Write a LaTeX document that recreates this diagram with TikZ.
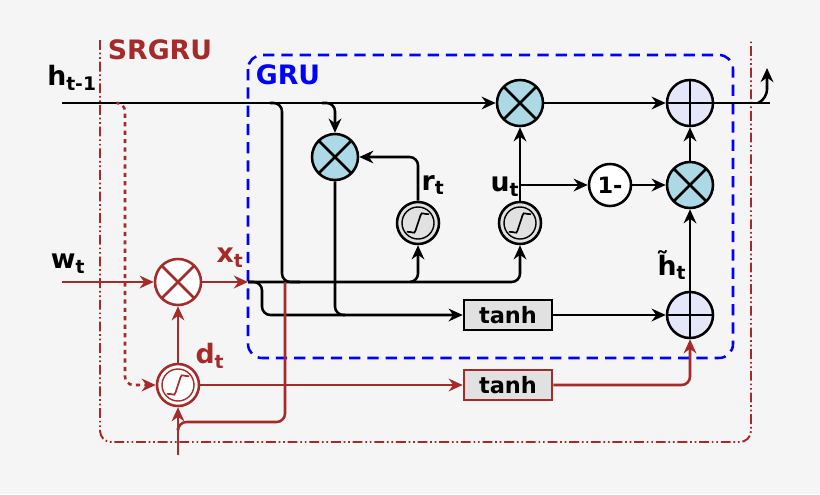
\documentclass[tikz,border=0pt]{standalone}
\usepackage{fontspec}
\setmainfont{DejaVu Sans}
\usetikzlibrary{arrows.meta,positioning}
\definecolor{srred}{RGB}{165,42,42}
\definecolor{mulblue}{RGB}{173,216,230}
\definecolor{addlav}{RGB}{230,230,250}
\definecolor{boxgray}{RGB}{225,225,225}
\tikzset{
	wire/.style={line width=1.8pt,rounded corners=6pt,-{Stealth[length=10pt,width=9pt]}},
	plain/.style={line width=1.8pt,rounded corners=6pt},
	op/.style={circle,draw,line width=1.8pt,minimum size=1.15cm,inner sep=0pt},
	mul/.style={op,fill=mulblue,path picture={
		\draw[line width=1.8pt] (path picture bounding box.north west)--(path picture bounding box.south east)
		(path picture bounding box.north east)--(path picture bounding box.south west);}},
	add/.style={op,fill=addlav,path picture={
		\draw[line width=1.8pt] (path picture bounding box.north)--(path picture bounding box.south)
		(path picture bounding box.east)--(path picture bounding box.west);}},
	sig/.style={op,minimum size=1.05cm,fill=boxgray,path picture={
		\draw[line width=1pt] (path picture bounding box.center) circle (0.4cm);
		\draw[line width=1.2pt] ([shift={(-0.28cm,-0.22cm)}]path picture bounding box.center)
		.. controls +(0.25cm,0) and +(-0.12cm,-0.35cm) .. (path picture bounding box.center)
		.. controls +(0.12cm,0.35cm) and +(-0.25cm,0) .. ([shift={(0.28cm,0.22cm)}]path picture bounding box.center);}},
	tanhbox/.style={draw,line width=1.8pt,fill=boxgray,minimum width=2.2cm,minimum height=0.75cm,font=\fontsize{16}{16}\selectfont\bfseries},
	lbl/.style={font=\fontsize{19}{19}\selectfont\bfseries}
}
\begin{document}
\begin{tikzpicture}[x=0.025cm,y=-0.025cm]
	\fill[white!96!black] (0,0) rectangle (820,494);
	\useasboundingbox (0,0) rectangle (820,494);

	% frames
	\draw[srred,line width=1.4pt,dash pattern=on 7pt off 2pt on 1.2pt off 2pt on 1.2pt off 2pt,rounded corners=8pt] (100,40)--(100,442)--(751,442)--(751,40);
	\node[lbl,srred] (srgru) at (160,50) {SRGRU};
	\draw[blue,line width=1.8pt,dash pattern=on 8pt off 5pt,rounded corners=10pt] (248,55) rectangle (733,358);
	\node[lbl,blue] (grutitle) at (288,75) {GRU};

	% nodes
	\node[mul] (mr) at (335,157) {};
	\node[mul] (mh) at (520,103) {};
	\node[mul] (mu) at (690,185) {};
	\node[add] (ptop) at (690,103) {};
	\node[add] (pbot) at (690,315) {};
	\node[sig] (sr) at (418,223) {};
	\node[sig] (su) at (520,223) {};
	\node[op,fill=white,font=\fontsize{16}{16}\selectfont\bfseries,minimum size=1.05cm] (one) at (610,185) {1-};
	\node[tanhbox] (th) at (508,315) {tanh};
	\node[tanhbox,draw=srred] (thd) at (508,385) {tanh};
	\node[mul,fill=white,draw=srred,path picture={
		\draw[srred,line width=1.8pt] (path picture bounding box.north west)--(path picture bounding box.south east)
		(path picture bounding box.north east)--(path picture bounding box.south west);}] (mx) at (178,282) {};
	\node[sig,fill=white,draw=srred,path picture={
		\draw[srred,line width=1pt] (path picture bounding box.center) circle (0.4cm);
		\draw[srred,line width=1.2pt] ([shift={(-0.28cm,-0.22cm)}]path picture bounding box.center)
		.. controls +(0.25cm,0) and +(-0.12cm,-0.35cm) .. (path picture bounding box.center)
		.. controls +(0.12cm,0.35cm) and +(-0.25cm,0) .. ([shift={(0.28cm,0.22cm)}]path picture bounding box.center);}] (sd) at (178,385) {};

	% labels
	\node[lbl] (hlab) at (72,78) {h\textsubscript{t-1}};
	\node[lbl] (wlab) at (68,264) {w\textsubscript{t}};
	\node[lbl,srred] (xlab) at (230,258) {x\textsubscript{t}};
	\node[lbl,srred] (dlab) at (210,356) {d\textsubscript{t}};
	\node[lbl] (rlab) at (433,185) {r\textsubscript{t}};
	\node[lbl] (ulab) at (505,187) {u\textsubscript{t}};
	\node[lbl] (hhlab) at (672,265) {h̃\textsubscript{t}};

	\coordinate (hin) at (62,103);
	\coordinate (hout) at (770,103);
	\coordinate (win) at (62,282);
	\coordinate (xin) at (248,282);
	\coordinate (din) at (178,455);

	% black wires
	\draw[wire] (hin)--(mh);
	\draw[wire] (mh)--(ptop);
	\draw[plain] (ptop)--(hout);
	\draw[wire] (758,103)--(767,98)--(767,68);
	\draw[wire] (322,103)--(335,103)--(mr);
	\draw[plain] (270,103)--(282,103)--(282,282)--(300,282);
	\draw[wire] (xin)--(418,282)--(sr);
	\draw[wire] (410,282)--(520,282)--(su);
	\draw[wire] (sr)--(418,157)--(mr);
	\draw[wire] (su)--(mh);
	\draw[wire] (520,185)--(one);
	\draw[wire] (one)--(mu);
	\draw[wire] (mu)--(ptop);
	\draw[wire] (pbot)--(mu);
	\draw[wire] (xin)--(262,282)--(262,315)--(th);
	\draw[plain] (mr)--(335,315)--(345,315);
	\draw[wire] (th)--(pbot);

	% red wires
	\begin{scope}[srred]
	\draw[wire] (win)--(mx);
	\draw[wire] (mx)--(xin);
	\draw[wire] (sd)--(mx);
	\draw[wire] (din)--(sd);
	\draw[plain] (178,428)--(178,422)--(285,422)--(285,282);
	\draw[wire] (sd)--(thd);
	\draw[wire] (thd)--(690,385)--(pbot);
	\draw[wire,dashed] (118,103)--(125,103)--(125,385)--(sd);
	\end{scope}
\end{tikzpicture}
\end{document}
